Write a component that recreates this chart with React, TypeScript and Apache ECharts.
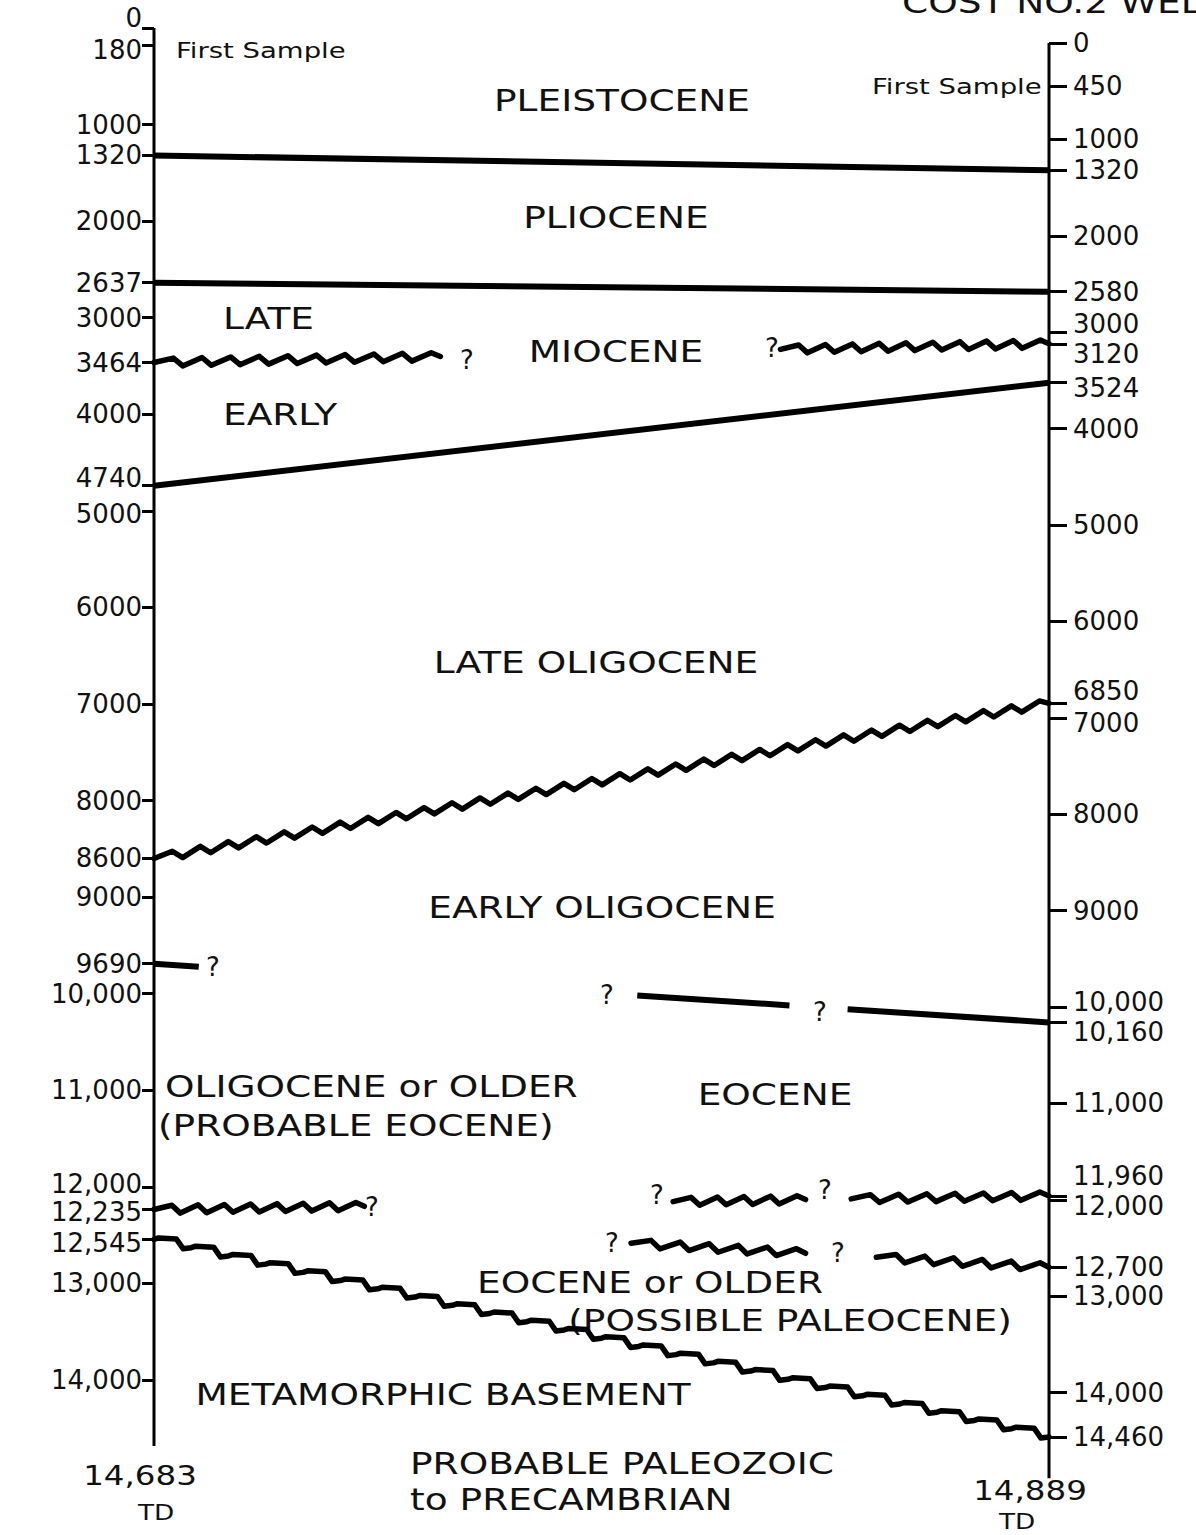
import { useEffect, useRef } from 'react';
import * as echarts from 'echarts';

// ---------- data ----------
const leftTicks = [0, 180, 1000, 1320, 2000, 2637, 3000, 3464, 4000, 4740, 5000, 6000, 7000, 8000, 8600, 9000, 9690, 10000, 11000, 12000, 12235, 12545, 13000, 14000];
const rightTicks = [0, 450, 1000, 1320, 2000, 2580, 3000, 3120, 3524, 4000, 5000, 6000, 6850, 7000, 8000, 9000, 10000, 10160, 11000, 11960, 12000, 12700, 13000, 14000, 14460];
const leftTD = 14683;
const rightTD = 14889;

const boundaryNames = ['Pleistocene/Pliocene', 'Pliocene/Miocene', 'Late/Early Miocene', 'Miocene/Oligocene', 'Late/Early Oligocene', 'Oligocene/Eocene', 'Top Eocene or older (upper)', 'Top Eocene or older (lower)', 'Basement'];
const boundaryLeftDepth = [1320, 2637, 3464, 4740, 8600, 9690, 12235, 12300, 12545];
const boundaryRightDepth = [1320, 2580, 3120, 3524, 6850, 10160, 11960, 12700, 14460];
const boundaryKinds = ['straight', 'straight', 'wavy', 'straight', 'wavy', 'straight', 'wavy', 'wavy', 'stepped'];
const boundarySpans = [
  [[0, 1]],
  [[0, 1]],
  [[0, 0.32], [0.7, 1]],
  [[0, 1]],
  [[0, 1]],
  [[0, 0.05], [0.54, 0.71], [0.775, 1]],
  [[0, 0.235], [0.58, 0.728], [0.779, 1]],
  [[0.533, 0.728], [0.807, 1]],
  [[0, 1]],
];

// ---------- layout / style ----------
const FONT = 'DejaVu Sans';
const INK = '#111';
const TICK_FONT = 26;
const GRID_LEFT = 154;
const GRID_RIGHT_X = 1049;
const GRID_TOP = 28;
const GRID_HEIGHT = 1452;
const LEFT_MIN = 0;
const LEFT_MAX = 15036;
const RIGHT_MIN = -156;
const RIGHT_MAX = 14907;

const leftLabelShift: Record<number, number> = { 0: -10, 180: 5, 4740: -8, 5000: 3, 12000: -3, 12235: 2, 12545: 4 };
const rightLabelShift: Record<number, number> = { 3000: -8, 3120: 10, 3524: 5, 6850: -12, 7000: 5, 10000: -5, 10160: 10, 11960: -20, 12000: 6 };

const fmt = (v: number) => (v >= 10000 ? v.toLocaleString('en-US') : String(v));
const shiftKey = (s: number) => (s < 0 ? 'u' + -s : 'd' + s);

function buildRich(shifts: Record<number, number>) {
  const rich: any = {};
  Object.values(shifts).forEach((s) => {
    rich[shiftKey(s)] = {
      fontSize: TICK_FONT,
      fontFamily: FONT,
      color: INK,
      padding: s < 0 ? [0, 0, -2 * s, 0] : [2 * s, 0, 0, 0],
    };
  });
  return rich;
}

function labelFormatter(shifts: Record<number, number>) {
  return (v: number) => {
    const s = shifts[v];
    if (!s) return fmt(v);
    return '{' + shiftKey(s) + '|' + fmt(v) + '}';
  };
}

function wavyPoints(A: number[], B: number[], period: number, amp: number) {
  const dx = B[0] - A[0];
  const dy = B[1] - A[1];
  const len = Math.hypot(dx, dy);
  const ux = dx / len, uy = dy / len;
  const nx = -uy, ny = ux;
  const at = (t: number, o: number) => [A[0] + ux * t + nx * o, A[1] + uy * t + ny * o];
  const n = Math.max(1, Math.round(len / period));
  const p = len / n;
  const pts: number[][] = [at(0, 0)];
  for (let k = 0; k < n; k++) {
    pts.push(at(k * p + 0.68 * p, -amp));
    pts.push(at((k + 1) * p, k === n - 1 ? 0 : amp));
  }
  return pts;
}

function steppedPoints(A: number[], B: number[], period: number) {
  const n = Math.max(1, Math.round((B[0] - A[0]) / period));
  const p = (B[0] - A[0]) / n;
  const d = (B[1] - A[1]) / n;
  const pts: number[][] = [A];
  for (let k = 0; k < n; k++) {
    const x0 = A[0] + k * p;
    const y0 = A[1] + k * d;
    pts.push([x0 + 0.12 * p, y0 - 1.5]);
    pts.push([x0 + 0.6 * p, y0 - 0.5]);
    pts.push([x0 + 0.78 * p, y0 + d + 1]);
    pts.push([x0 + p, y0 + d]);
  }
  return pts;
}

const kindIndex = (k: string) => (k === 'straight' ? 0 : k === 'wavy' ? 1 : 2);

const segmentData: number[][] = [];
boundaryLeftDepth.forEach((L, i) => {
  boundarySpans[i].forEach(([s0, s1]) => {
    segmentData.push([s0, s1, L, boundaryRightDepth[i], kindIndex(boundaryKinds[i]), i]);
  });
});

function renderBoundary(params: any, api: any) {
  const s0 = api.value(0);
  const s1 = api.value(1);
  const L = api.value(2);
  const R = api.value(3);
  const kind = api.value(4);
  const cs = params.coordSys;
  const pL = api.coord([0, L]);
  const pR = [cs.x + cs.width, cs.y + ((R - RIGHT_MIN) / (RIGHT_MAX - RIGHT_MIN)) * cs.height];
  const lerp = (t: number) => [pL[0] + (pR[0] - pL[0]) * t, pL[1] + (pR[1] - pL[1]) * t];
  const A = lerp(s0);
  const B = lerp(s1);
  if (kind === 0) {
    return {
      type: 'line',
      shape: { x1: A[0], y1: A[1], x2: B[0], y2: B[1] },
      style: { stroke: '#000', lineWidth: 6, lineCap: 'butt' },
    };
  }
  const points = kind === 1 ? wavyPoints(A, B, 28, 4) : steppedPoints(A, B, 38);
  return {
    type: 'polyline',
    shape: { points },
    style: { stroke: '#000', fill: 'none', lineWidth: 5.5, lineJoin: 'round', lineCap: 'round' },
  };
}

type T = { text: string; x: number; y: number; size?: number; align?: string; sx?: number };
const texts: T[] = [
  { text: 'COST NO.2 WELL', x: 902, y: 2, align: 'left' },
  { text: 'First Sample', x: 176, y: 50, size: 22, align: 'left' },
  { text: 'First Sample', x: 872, y: 86, size: 22, align: 'left' },
  { text: 'PLEISTOCENE', x: 622, y: 100 },
  { text: 'PLIOCENE', x: 616, y: 217 },
  { text: 'LATE', x: 223, y: 318, align: 'left' },
  { text: 'MIOCENE', x: 616, y: 351 },
  { text: 'EARLY', x: 223, y: 414, align: 'left' },
  { text: 'LATE OLIGOCENE', x: 596, y: 662 },
  { text: 'EARLY OLIGOCENE', x: 602, y: 907 },
  { text: 'OLIGOCENE or OLDER', x: 165, y: 1086, align: 'left' },
  { text: '(PROBABLE EOCENE)', x: 158, y: 1125, align: 'left' },
  { text: 'EOCENE', x: 775, y: 1094 },
  { text: 'EOCENE or OLDER', x: 650, y: 1282 },
  { text: '(POSSIBLE PALEOCENE)', x: 790, y: 1320 },
  { text: 'METAMORPHIC BASEMENT', x: 443, y: 1394 },
  { text: 'PROBABLE PALEOZOIC', x: 410, y: 1463, align: 'left' },
  { text: 'to PRECAMBRIAN', x: 410, y: 1499, align: 'left' },
  { text: '14,683', x: 140, y: 1476, size: 26 },
  { text: 'TD', x: 156, y: 1513, size: 21 },
  { text: '14,889', x: 1030, y: 1491, size: 26 },
  { text: 'TD', x: 1017, y: 1522, size: 21 },
  { text: '?', x: 467, y: 360, size: 26, sx: 1 },
  { text: '?', x: 772, y: 348, size: 26, sx: 1 },
  { text: '?', x: 213, y: 967, size: 26, sx: 1 },
  { text: '?', x: 607, y: 995, size: 26, sx: 1 },
  { text: '?', x: 820, y: 1012, size: 26, sx: 1 },
  { text: '?', x: 372, y: 1207, size: 26, sx: 1 },
  { text: '?', x: 657, y: 1195, size: 26, sx: 1 },
  { text: '?', x: 825, y: 1190, size: 26, sx: 1 },
  { text: '?', x: 612, y: 1243, size: 26, sx: 1 },
  { text: '?', x: 838, y: 1253, size: 26, sx: 1 },
];

const graphic = texts.map((t) => ({
  type: 'text',
  x: t.x,
  y: t.y,
  scaleX: t.sx ?? 1.25,
  style: {
    text: t.text,
    fontSize: t.size ?? 30,
    fontFamily: FONT,
    fill: INK,
    align: t.align ?? 'center',
    verticalAlign: 'middle',
  },
}));

const tickStyle = { color: '#000', width: 3 };

const option: any = {
  animation: false,
  backgroundColor: '#fff',
  grid: { left: GRID_LEFT, top: GRID_TOP, width: GRID_RIGHT_X - GRID_LEFT, height: GRID_HEIGHT },
  xAxis: { type: 'value', min: 0, max: 1, show: false },
  yAxis: [
    {
      type: 'value',
      position: 'left',
      inverse: true,
      min: LEFT_MIN,
      max: LEFT_MAX,
      splitLine: { show: false },
      axisLine: { show: false, onZero: false },
      axisTick: { show: true, customValues: leftTicks, length: 12, lineStyle: tickStyle },
      axisLabel: {
        customValues: leftTicks,
        formatter: labelFormatter(leftLabelShift),
        rich: buildRich(leftLabelShift),
        fontSize: TICK_FONT,
        fontFamily: FONT,
        color: INK,
        margin: 12,
      },
    },
    {
      type: 'value',
      position: 'right',
      inverse: true,
      min: RIGHT_MIN,
      max: RIGHT_MAX,
      splitLine: { show: false },
      axisLine: { show: false, onZero: false },
      axisTick: { show: true, customValues: rightTicks, length: 18, lineStyle: tickStyle },
      axisLabel: {
        customValues: rightTicks,
        formatter: labelFormatter(rightLabelShift),
        rich: buildRich(rightLabelShift),
        fontSize: TICK_FONT,
        fontFamily: FONT,
        color: INK,
        margin: 24,
      },
    },
  ],
  series: [
    {
      name: 'Left well',
      type: 'line',
      yAxisIndex: 0,
      data: [[0, 0], [0, leftTD]],
      symbol: 'none',
      lineStyle: { color: '#000', width: 3 },
    },
    {
      name: 'Right well',
      type: 'line',
      yAxisIndex: 1,
      data: [[1, 0], [1, rightTD]],
      symbol: 'none',
      lineStyle: { color: '#000', width: 3 },
    },
    {
      name: 'Boundaries',
      type: 'custom',
      yAxisIndex: 0,
      clip: false,
      encode: { x: [0, 1], y: [2] },
      renderItem: renderBoundary,
      data: segmentData,
    },
  ],
  graphic,
};

export default function App() {
  const ref = useRef<HTMLDivElement>(null);
  useEffect(() => {
    const chart = echarts.init(ref.current!, null, { renderer: 'svg' });
    chart.setOption(option);
    return () => chart.dispose();
  }, []);
  return (
    <div
      ref={ref}
      style={{ position: 'absolute', left: 0, top: 0, width: 1196, height: 1535, background: '#fff' }}
    />
  );
}
